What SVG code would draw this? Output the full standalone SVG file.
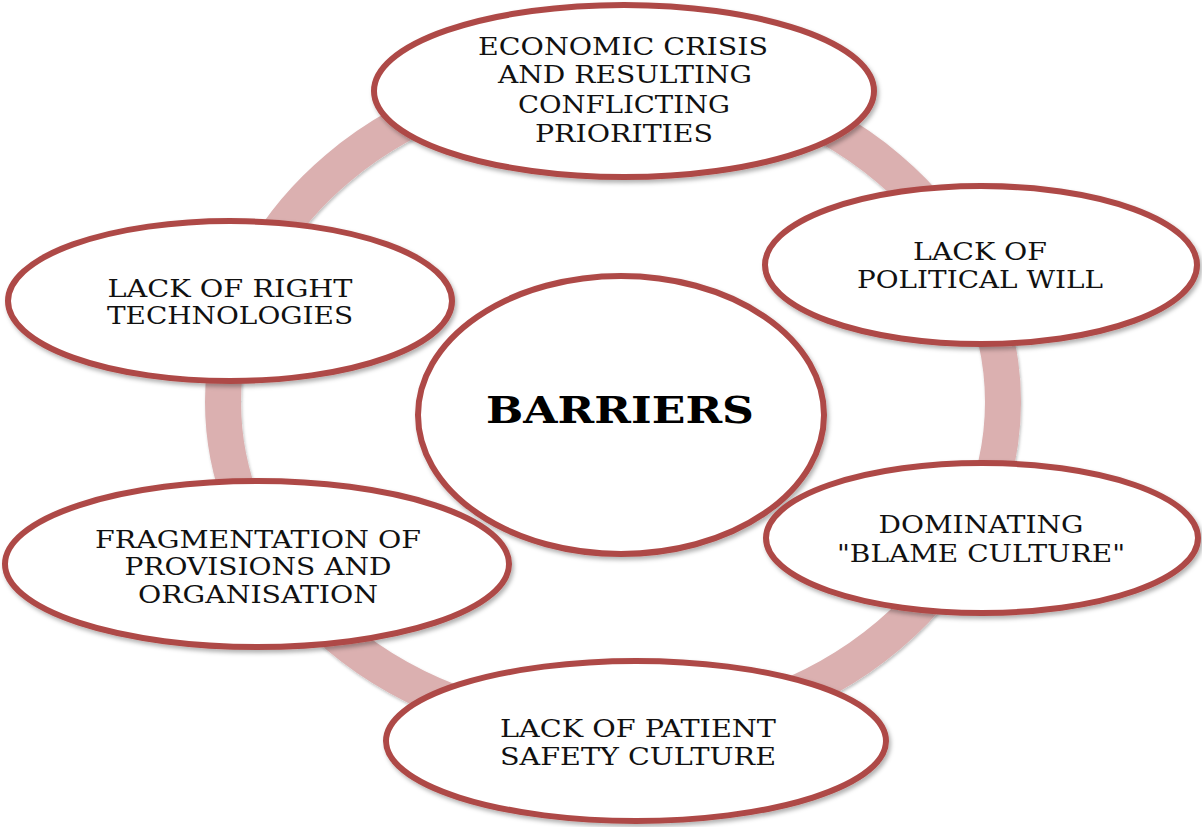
<svg xmlns="http://www.w3.org/2000/svg" width="1202" height="827" viewBox="0 0 1202 827">
<defs>
<filter id="sh" x="-10%" y="-10%" width="120%" height="125%">
<feDropShadow dx="2" dy="3" stdDeviation="2" flood-color="#000" flood-opacity="0.3"/>
</filter>
<filter id="shr" x="-10%" y="-10%" width="120%" height="120%">
<feDropShadow dx="1" dy="2" stdDeviation="1.5" flood-color="#000" flood-opacity="0.25"/>
</filter>
</defs>
<style>
.node{fill:#ffffff;stroke:#ae4a47;stroke-width:6;filter:url(#sh)}
.ring{fill:none;stroke:#dbb0b0;stroke-width:36;filter:url(#shr)}
.t{font-family:"DejaVu Serif","Liberation Serif",serif;font-size:24px;fill:#111;text-anchor:middle}
.b{font-family:"DejaVu Serif","Liberation Serif",serif;font-size:38px;font-weight:bold;fill:#000;text-anchor:middle}
</style>
<g id="connectors">
<ellipse class="ring" cx="613" cy="402" rx="390" ry="330"/>
</g>
<g id="center">
<ellipse class="node" cx="621" cy="415" rx="203" ry="139"/>
<text class="b" x="620" y="423" textLength="268" lengthAdjust="spacingAndGlyphs">BARRIERS</text>
</g>
<g id="economic">
<ellipse class="node" cx="624" cy="91" rx="250" ry="86"/>
<text class="t" x="623" y="55" textLength="290" lengthAdjust="spacingAndGlyphs">ECONOMIC CRISIS</text>
<text class="t" x="625" y="83" textLength="254" lengthAdjust="spacingAndGlyphs">AND RESULTING</text>
<text class="t" x="624" y="113" textLength="212" lengthAdjust="spacingAndGlyphs">CONFLICTING</text>
<text class="t" x="624" y="142" textLength="178" lengthAdjust="spacingAndGlyphs">PRIORITIES</text>
</g>
<g id="political">
<ellipse class="node" cx="981" cy="265" rx="216" ry="79"/>
<text class="t" x="980" y="260" textLength="134" lengthAdjust="spacingAndGlyphs">LACK OF</text>
<text class="t" x="980" y="288" textLength="246" lengthAdjust="spacingAndGlyphs">POLITICAL WILL</text>
</g>
<g id="blame">
<ellipse class="node" cx="982" cy="538" rx="216" ry="75"/>
<text class="t" x="981" y="533" textLength="205" lengthAdjust="spacingAndGlyphs">DOMINATING</text>
<text class="t" x="981" y="562" textLength="288" lengthAdjust="spacingAndGlyphs">"BLAME CULTURE"</text>
</g>
<g id="safety">
<ellipse class="node" cx="636" cy="741" rx="250" ry="80"/>
<text class="t" x="638" y="737" textLength="276" lengthAdjust="spacingAndGlyphs">LACK OF PATIENT</text>
<text class="t" x="638" y="765" textLength="276" lengthAdjust="spacingAndGlyphs">SAFETY CULTURE</text>
</g>
<g id="fragmentation">
<ellipse class="node" cx="257" cy="564" rx="252" ry="83"/>
<text class="t" x="258" y="548" textLength="326" lengthAdjust="spacingAndGlyphs">FRAGMENTATION OF</text>
<text class="t" x="258" y="575" textLength="267" lengthAdjust="spacingAndGlyphs">PROVISIONS AND</text>
<text class="t" x="258" y="603" textLength="240" lengthAdjust="spacingAndGlyphs">ORGANISATION</text>
</g>
<g id="technologies">
<ellipse class="node" cx="230" cy="301" rx="222" ry="80"/>
<text class="t" x="230" y="297" textLength="245" lengthAdjust="spacingAndGlyphs">LACK OF RIGHT</text>
<text class="t" x="230" y="324" textLength="246" lengthAdjust="spacingAndGlyphs">TECHNOLOGIES</text>
</g>
</svg>
